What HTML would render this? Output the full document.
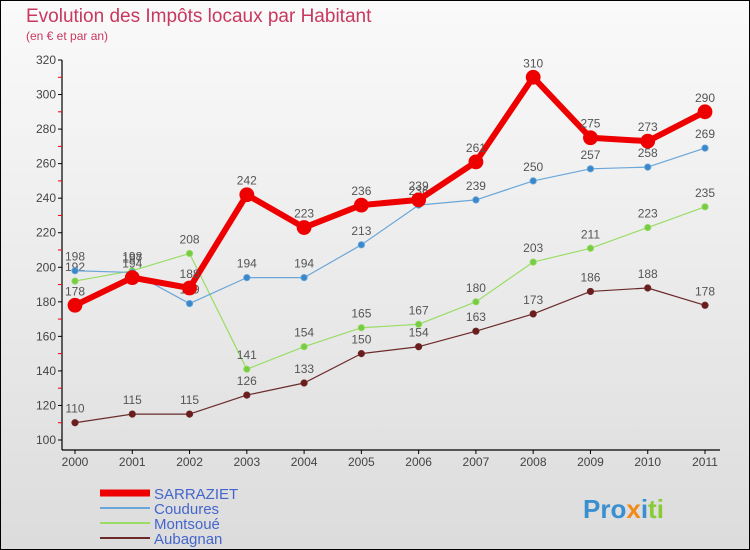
<!DOCTYPE html>
<html><head><meta charset="utf-8"><style>
body{margin:0;width:750px;height:550px;overflow:hidden;font-family:"Liberation Sans",sans-serif}
#wrap{position:absolute;left:0;top:0;width:748px;height:548px;border:1px solid #000;background:linear-gradient(#fafafa,#dcdcdc)}
</style></head><body>
<div id="wrap">
<svg id="chart" width="750" height="550" style="position:absolute;left:-1px;top:-1px"></svg>
</div>
<script>
const years=[2000,2001,2002,2003,2004,2005,2006,2007,2008,2009,2010,2011];
const yTicks=[100,120,140,160,180,200,220,240,260,280,300,320];
const sarraziet=[178,194,188,242,223,236,239,261,310,275,273,290];
const coudures=[198,197,179,194,194,213,236,239,250,257,258,269];
const montsoue=[192,198,208,141,154,165,167,180,203,211,223,235];
const aubagnan=[110,115,115,126,133,150,154,163,173,186,188,178];
const NS="http://www.w3.org/2000/svg";
const svg=document.getElementById('chart');
function X(i){return 75+i*(630/11);}
function Y(v){return 440-(v-100)*380/220;}
function mk(t,a,txt){const e=document.createElementNS(NS,t);for(const k in a)e.setAttribute(k,a[k]);if(txt!==undefined)e.textContent=txt;svg.appendChild(e);return e;}
let e;
e=mk('text',{x:26,y:22,'font-size':19,fill:'#c8385f'},'Evolution des Impôts locaux par Habitant');


e=mk('text',{x:26,y:40,'font-size':12,fill:'#c8385f'},'(en € et par an)');


e=mk('line',{x1:62,y1:60,x2:62,y2:450,stroke:'#000','stroke-width':1.2});


e=mk('line',{x1:62,y1:450,x2:720,y2:450,stroke:'#000','stroke-width':1.2});


yTicks.forEach((v,i)=>{
 mk('line',{x1:58,y1:Y(v),x2:62,y2:Y(v),stroke:'#000'});
 if(i<yTicks.length-1)mk('line',{x1:58,y1:Y(v+10),x2:62,y2:Y(v+10),stroke:'#e00'});
 e=mk('text',{x:56,y:Y(v)+4,'font-size':12,fill:'#444','text-anchor':'end'},v);
 
 
});
years.forEach((y,i)=>{
 mk('line',{x1:X(i),y1:450,x2:X(i),y2:454,stroke:'#000'});
 e=mk('text',{x:X(i),y:466,'font-size':12,fill:'#444','text-anchor':'middle'},y);
 
 
});
function series(name,data,color,dot,w,r){
 const g=document.createElementNS(NS,'g');svg.appendChild(g);
 
 
 const p=document.createElementNS(NS,'polyline');
 p.setAttribute('points',data.map((v,i)=>X(i)+','+Y(v)).join(' '));
 p.setAttribute('fill','none');p.setAttribute('stroke',color);p.setAttribute('stroke-width',w);p.setAttribute('stroke-linejoin','round');
 g.appendChild(p);
 data.forEach((v,i)=>{
  const c=document.createElementNS(NS,'circle');
  c.setAttribute('cx',X(i));c.setAttribute('cy',Y(v));c.setAttribute('r',r);c.setAttribute('fill',dot);c.setAttribute('stroke',color);c.setAttribute('stroke-width',0.8);
  
  
  g.appendChild(c);
  const t=document.createElementNS(NS,'text');
  t.setAttribute('x',X(i));t.setAttribute('y',Y(v)-10);t.setAttribute('font-size',12);t.setAttribute('fill','#555');t.setAttribute('text-anchor','middle');
  t.textContent=v;
  
  
  g.appendChild(t);
 });
}
series('aubagnan',aubagnan,'#6b2a2a','#6b1c1c',1.2,3.2);
series('montsoue',montsoue,'#99dd66','#77cc44',1.2,3.2);
series('coudures',coudures,'#6aa6d8','#3a88cc',1.2,3.2);
series('sarraziet',sarraziet,'#ee0000','#ee0000',6,7);
const legend=[['SARRAZIET','#ee0000',7],['Coudures','#6aa6d8',2],['Montsoué','#99dd66',2],['Aubagnan','#6b2a2a',2]];
legend.forEach((l,i)=>{
 const y=493+i*15;
 e=mk('line',{x1:100,y1:y,x2:150,y2:y,stroke:l[1],'stroke-width':l[2]});
 
 
 e=mk('text',{x:154,y:y+6,'font-size':15,fill:'#4466cc'},l[0]);
 
 
});
e=mk('text',{x:583,y:518,'font-size':26,'font-weight':'bold',fill:'#3a8fd0'},'');
e.innerHTML='<tspan fill="#3a8fd0">Pro</tspan><tspan fill="#f08a1a">x</tspan><tspan fill="#3a8fd0">i</tspan><tspan fill="#88cc33">ti</tspan>';


</script>
</body></html>
